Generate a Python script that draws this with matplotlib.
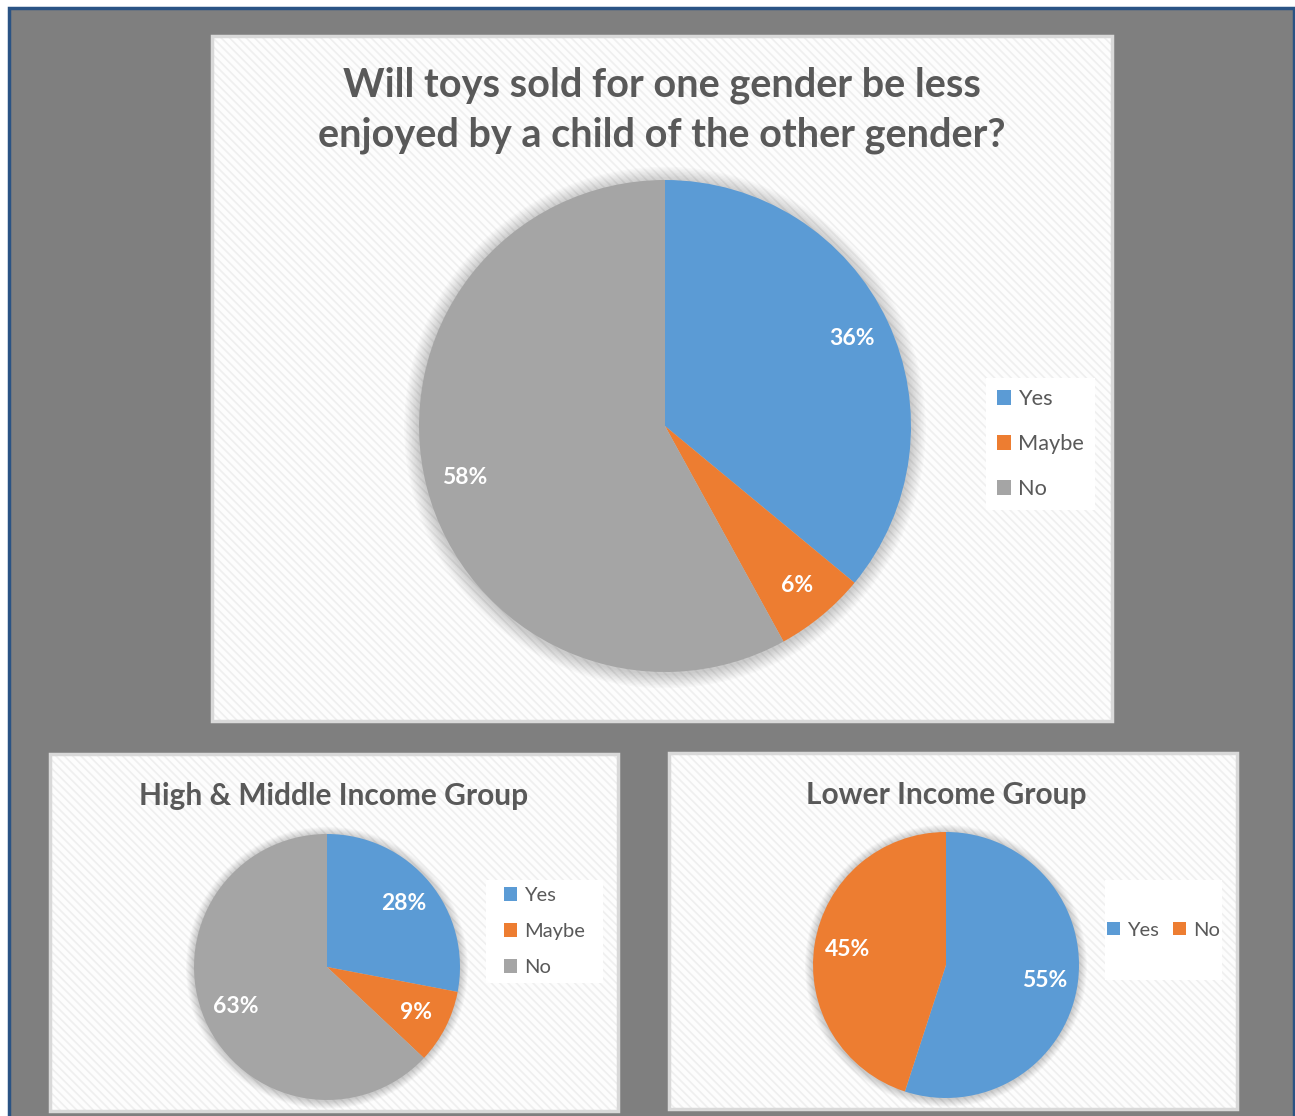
import matplotlib
matplotlib.use("Agg")
import matplotlib.pyplot as plt
from matplotlib.patches import Rectangle, Circle, Patch

plt.rcParams['font.family'] = ['Lato', 'DejaVu Sans']
plt.rcParams['hatch.linewidth'] = 1.2

W, H = 1295, 1116

# ---- data ----
main_title = "Will toys sold for one gender be less\nenjoyed by a child of the other gender?"
main_labels = ["Yes", "Maybe", "No"]
main_values = [36, 6, 58]

hm_title = "High & Middle Income Group"
hm_labels = ["Yes", "Maybe", "No"]
hm_values = [28, 9, 63]

low_title = "Lower Income Group"
low_labels = ["Yes", "No"]
low_values = [55, 45]

palette = ["#5b9bd5", "#ed7d31", "#a5a5a5"]

fig = plt.figure(figsize=(W / 100, H / 100), dpi=100)
fig.patch.set_facecolor("white")


def fx(x):
    return x / W


def fy(y):
    return 1 - y / H


def rect_px(x0, y0, x1, y1, **kw):
    return Rectangle((fx(x0), fy(y1)), fx(x1) - fx(x0), fy(y0) - fy(y1),
                     transform=fig.transFigure, **kw)


# grey background with dark blue border
fig.patches.append(rect_px(9, 8, 1294, 1120, facecolor="#7f7f7f",
                           edgecolor="#2a5384", linewidth=2.5, zorder=0))


def panel(x0, y0, x1, y1):
    fig.patches.append(rect_px(x0, y0, x1, y1, facecolor="#fdfdfd",
                               edgecolor="none", zorder=1))
    fig.patches.append(rect_px(x0, y0, x1, y1, facecolor="none",
                               edgecolor="#efefef", hatch="\\\\\\\\",
                               linewidth=0, zorder=1))
    fig.patches.append(rect_px(x0, y0, x1, y1, facecolor="none",
                               edgecolor="#d9d9d9", linewidth=2.5, zorder=2))


panel(212, 36, 1112, 721)
panel(50, 754, 618, 1111)
panel(669, 753, 1237, 1109)


def pie_ax(cx, cy, r, values, pctdist, fsize):
    m = 1.08
    ax = fig.add_axes([fx(cx - r * m), fy(cy + r * m), fx(2 * r * m), (2 * r * m) / H])
    ax.set_zorder(3)
    ax.set_aspect("equal")
    ax.axis("off")
    # soft shadow
    for i in range(10):
        ax.add_patch(Circle((0.0, -0.006), 1.0 + 0.006 * (i + 1), facecolor="black",
                            alpha=0.018, edgecolor="none", zorder=0))
    wedges, texts, autotexts = ax.pie(
        values, colors=palette[:len(values)], startangle=90, counterclock=False,
        radius=1.0, autopct=lambda p: f"{p:.0f}%", pctdistance=pctdist,
        wedgeprops=dict(linewidth=0),
        textprops=dict(color="white", fontsize=fsize, fontweight="bold"))
    for w in wedges:
        w.set_zorder(2)
    for t in autotexts:
        t.set_zorder(4)
    ax.set_xlim(-m, m)
    ax.set_ylim(-m, m)
    return ax


pie_ax(665, 426, 246, main_values, 0.84, 16.5)
pie_ax(327, 967, 133, hm_values, 0.75, 16.5)
pie_ax(946, 965, 133, low_values, 0.75, 16.5)

# titles
fig.text(fx(662), fy(110), main_title, ha="center", va="center", fontsize=28.5,
         fontweight="bold", color="#595959", linespacing=1.42, zorder=5)
fig.text(fx(334), fy(796), hm_title, ha="center", va="center", fontsize=21.5,
         fontweight="bold", color="#595959", zorder=5)
fig.text(fx(946), fy(795), low_title, ha="center", va="center", fontsize=21.5,
         fontweight="bold", color="#595959", zorder=5)


def legend(labels, x0, y0, x1, y1, fsize, ncol=1, spacing=1.0):
    fig.patches.append(rect_px(x0, y0, x1, y1, facecolor="white",
                               edgecolor="none", zorder=3))
    handles = [Patch(facecolor=palette[i], edgecolor="none") for i in range(len(labels))]
    leg = fig.legend(handles, labels, loc="center",
                     bbox_to_anchor=(fx((x0 + x1) / 2), fy((y0 + y1) / 2)),
                     frameon=False, fontsize=fsize, ncol=ncol, labelspacing=spacing,
                     handlelength=0.65, handleheight=0.65, handletextpad=0.35,
                     columnspacing=0.7, labelcolor="#595959")
    leg.set_zorder(6)
    return leg


legend(main_labels, 986, 378, 1095, 510, 15.7, spacing=1.15)
legend(hm_labels, 486, 880, 603, 983, 14.5, spacing=0.95)
legend(low_labels, 1105, 880, 1222, 980, 14.5, ncol=2)

fig.savefig("out.png", dpi=100, facecolor=fig.get_facecolor())
